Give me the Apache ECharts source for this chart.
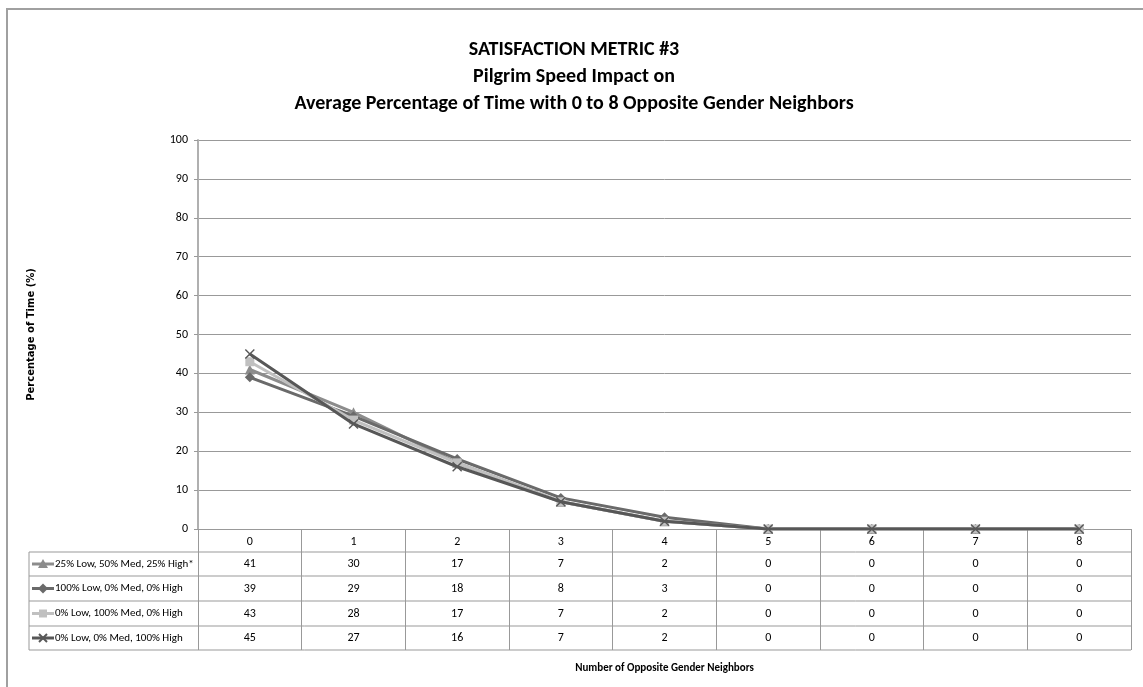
<!DOCTYPE html>
<html>
<head>
<meta charset="utf-8">
<script src="https://cdn.jsdelivr.net/npm/echarts@6/dist/echarts.min.js"></script>
<style>
html,body{margin:0;padding:0;background:#fff;}
#chart{width:1143px;height:687px;}
</style>
</head>
<body>
<div id="chart"></div>
<script>
const categories = ['0','1','2','3','4','5','6','7','8'];
const yTicks = [0,10,20,30,40,50,60,70,80,90,100];
const seriesNames = ['25% Low, 50% Med, 25% High*','100% Low, 0% Med, 0% High','0% Low, 100% Med, 0% High','0% Low, 0% Med, 100% High'];
const mixed = [41,30,17,7,2,0,0,0,0];
const allLow = [39,29,18,8,3,0,0,0,0];
const allMed = [43,28,17,7,2,0,0,0,0];
const allHigh = [45,27,16,7,2,0,0,0,0];
const seriesData = [mixed, allLow, allMed, allHigh];
const seriesColors = ['#8c8c8c','#6a6a6a','#c0c0c0','#575757'];
const xSym = 'path://M0,1 L1,0 L5,4 L9,0 L10,1 L6,5 L10,9 L9,10 L5,6 L1,10 L0,9 L4,5 Z';
const symbols = ['triangle','diamond','rect',xSym];
const symbolSizes = [10,10,9,10];

const FONT = "'Liberation Sans Narrow', Carlito, Lato, sans-serif";
const AXIS_TITLE_FONT = "'DejaVu Sans', Verdana, sans-serif";
const chart = echarts.init(document.getElementById('chart'));

const gridLeft = 198, gridRight = 1131, gridTop = 140, gridBottom = 529;
const rowLines = [552, 576, 601, 626, 650];

const option = {
  animation: false,
  backgroundColor: '#fff',
  textStyle: {fontFamily: FONT},
  title: {
    text: 'SATISFACTION METRIC #3\nPilgrim Speed Impact on\nAverage Percentage of Time with 0 to 8 Opposite Gender Neighbors',
    left: 569, top: 31, textAlign: 'center',
    textStyle: {fontFamily: FONT, fontSize: 20, fontWeight: 'bold', color: '#000', lineHeight: 27}
  },
  grid: {left: gridLeft, right: 1143 - gridRight, top: gridTop, bottom: 687 - gridBottom, containLabel: false},
  xAxis: {
    type: 'category', data: categories, boundaryGap: true,
    name: 'Number of Opposite Gender Neighbors', nameLocation: 'middle', nameGap: 134,
    nameTextStyle: {fontFamily: FONT, fontSize: 11, fontWeight: 'bold', color: '#000'},
    axisLine: {lineStyle: {color: '#999', width: 1}},
    axisTick: {show: true, interval: 0, length: 121, lineStyle: {color: '#999', width: 1}},
    axisLabel: {margin: 7, fontFamily: FONT, fontSize: 12, color: '#000', interval: 0}
  },
  yAxis: {
    type: 'value', min: 0, max: 100, interval: 10,
    name: 'Percentage of Time (%)', nameLocation: 'middle', nameGap: 162, nameRotate: 90,
    nameTextStyle: {fontFamily: AXIS_TITLE_FONT, fontSize: 10, fontWeight: 'bold', color: '#000'},
    axisLine: {show: true, lineStyle: {color: '#b0b0b0', width: 2}},
    axisTick: {show: true, length: 4, lineStyle: {color: '#999'}},
    axisLabel: {margin: 10, fontFamily: FONT, fontSize: 12, color: '#000'},
    splitLine: {show: true, lineStyle: {color: '#999', width: 1}}
  },
  series: seriesData.map((d, i) => ({
    name: seriesNames[i], type: 'line', data: d,
    symbol: symbols[i], symbolSize: symbolSizes[i], showAllSymbol: true,
    lineStyle: {color: seriesColors[i], width: 3},
    itemStyle: {color: seriesColors[i]},
    z: 2 + i
  }))
};
chart.setOption(option);

// Data table drawn from the arrays, positioned through the category axis
const xs = categories.map((c, i) => chart.convertToPixel({xAxisIndex: 0}, i));
const graphics = [];
graphics.push({type: 'rect', shape: {x: 7, y: 9, width: 1300, height: 800}, style: {fill: 'none', stroke: '#a0a0a0', lineWidth: 2}, silent: true, z: 0});
rowLines.forEach(y => {
  graphics.push({type: 'line', shape: {x1: 29, y1: y, x2: gridRight, y2: y}, style: {stroke: '#999', lineWidth: 1}, z: 1});
});
graphics.push({type: 'line', shape: {x1: 29, y1: rowLines[0], x2: 29, y2: rowLines[rowLines.length - 1]}, style: {stroke: '#999', lineWidth: 1}, z: 1});
seriesData.forEach((d, r) => {
  const yc = (rowLines[r] + rowLines[r + 1]) / 2;
  d.forEach((v, i) => {
    graphics.push({type: 'text', x: xs[i], y: yc, style: {text: String(v), font: '12px ' + FONT, fill: '#000', textAlign: 'center', textVerticalAlign: 'middle'}, z: 5});
  });
  // legend key
  graphics.push({type: 'line', shape: {x1: 32, y1: yc, x2: 54, y2: yc}, style: {stroke: seriesColors[r], lineWidth: 3}, z: 5});
  let symEl;
  if (r === 0) {
    symEl = {type: 'polygon', shape: {points: [[43, yc - 5], [48, yc + 4], [38, yc + 4]]}, style: {fill: seriesColors[r]}, z: 6};
  } else if (r === 1) {
    symEl = {type: 'polygon', shape: {points: [[43, yc - 5], [48, yc], [43, yc + 5], [38, yc]]}, style: {fill: seriesColors[r]}, z: 6};
  } else if (r === 2) {
    symEl = {type: 'rect', shape: {x: 39, y: yc - 4, width: 8, height: 8}, style: {fill: seriesColors[r]}, z: 6};
  } else {
    symEl = {type: 'group', z: 6, children: [
      {type: 'line', shape: {x1: 39, y1: yc - 4, x2: 47, y2: yc + 4}, style: {stroke: seriesColors[r], lineWidth: 2}},
      {type: 'line', shape: {x1: 47, y1: yc - 4, x2: 39, y2: yc + 4}, style: {stroke: seriesColors[r], lineWidth: 2}}
    ]};
  }
  graphics.push(symEl);
  graphics.push({type: 'text', x: 55, y: yc, style: {text: seriesNames[r], font: '11px ' + FONT, fill: '#000', textAlign: 'left', textVerticalAlign: 'middle'}, z: 5});
});
chart.setOption({graphic: graphics});
</script>
</body>
</html>
